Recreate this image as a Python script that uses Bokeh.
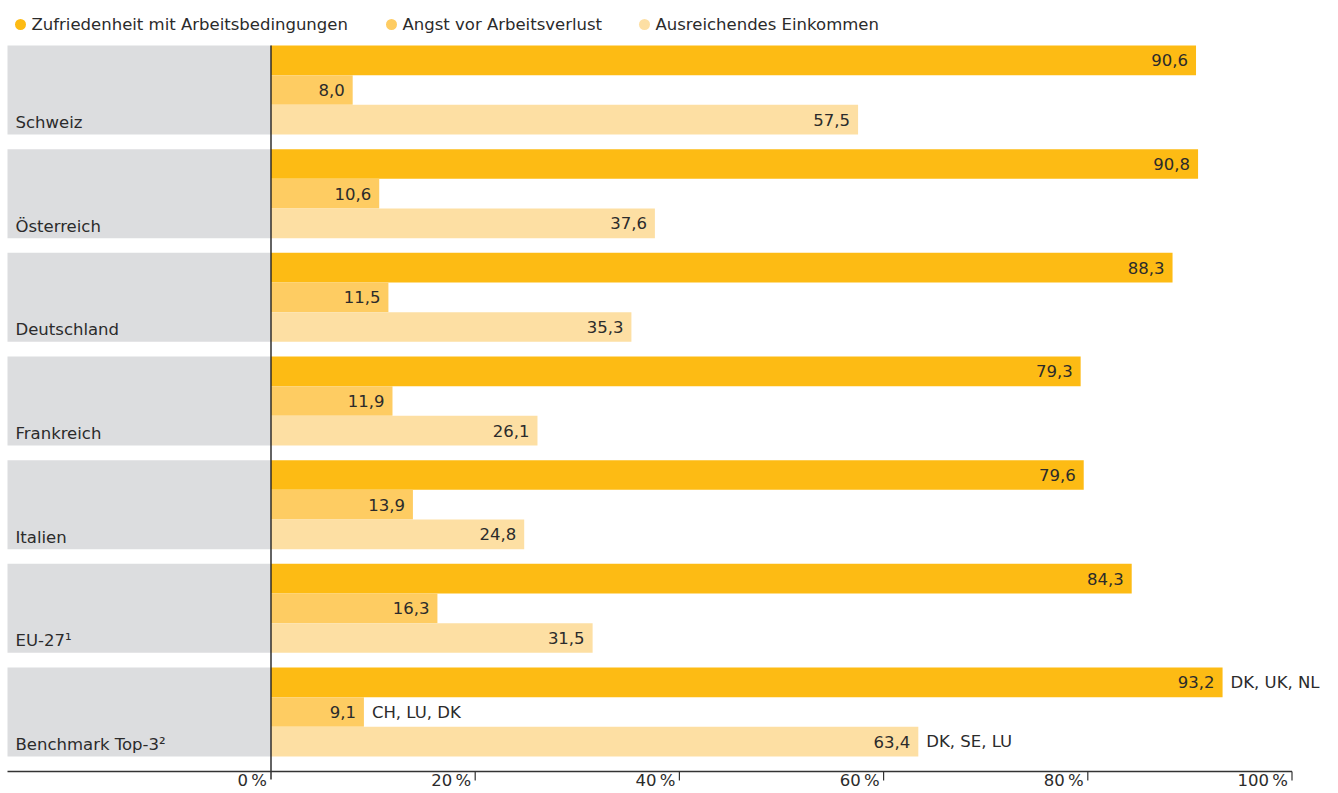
from bokeh.plotting import figure
from bokeh.models import Range1d, ColumnDataSource
from bokeh.core.properties import value
from bokeh.embed import file_html
from bokeh.resources import INLINE

# ---- data ----
countries = ["Schweiz", "Österreich", "Deutschland", "Frankreich", "Italien", "EU-27¹", "Benchmark Top-3²"]
series_names = ["Zufriedenheit mit Arbeitsbedingungen", "Angst vor Arbeitsverlust", "Ausreichendes Einkommen"]
zufriedenheit = [90.6, 90.8, 88.3, 79.3, 79.6, 84.3, 93.2]
angst = [8.0, 10.6, 11.5, 11.9, 13.9, 16.3, 9.1]
einkommen = [57.5, 37.6, 35.3, 26.1, 24.8, 31.5, 63.4]
benchmark_notes = ["DK, UK, NL", "CH, LU, DK", "DK, SE, LU"]
tick_values = [0, 20, 40, 60, 80, 100]
tick_labels = ["0\u2009%", "20\u2009%", "40\u2009%", "60\u2009%", "80\u2009%", "100\u2009%"]

# ---- styling / layout ----
colors = ["#FDBB14", "#FECC62", "#FDDFA3"]
panel_color = "#DCDDDF"
text_color = "#2B2B2B"
FONT = value("DejaVu Sans")
FS = "16.5px"

W, H = 1336, 792
ORIGIN = 0             # page offset of the figure
X0_PX = 270.5          # page x of 0 %
PX_PER_PCT = 10.21     # pixels per percent


def px2x(px):
    return (px - X0_PX) / PX_PER_PCT


p = figure(width=W, height=H, output_backend="svg", toolbar_location=None,
           x_range=Range1d(px2x(ORIGIN), px2x(ORIGIN + W)),
           y_range=Range1d(ORIGIN + H, ORIGIN),
           min_border=0, outline_line_color=None)
p.axis.visible = False
p.grid.visible = False
p.background_fill_color = "white"
p.border_fill_color = "white"

GROUP_TOP = 45.0
GROUP_STEP = 103.67
BAR_H = 29.67
n = len(countries)
tops = [GROUP_TOP + GROUP_STEP * i for i in range(n)]

# gray panels
p.quad(left=px2x(7), right=0, top=tops, bottom=[t + 3 * BAR_H for t in tops],
       fill_color=panel_color, line_color=None)

# country labels
p.text(x=[px2x(15)] * n, y=[t + 3 * BAR_H - 12 for t in tops], text=countries,
       text_font=FONT, text_font_size=FS, text_color=text_color,
       text_baseline="middle", text_align="left")

# bars
series = [zufriedenheit, angst, einkommen]
for k, vals in enumerate(series):
    yc = [t + BAR_H * (k + 0.5) for t in tops]
    src = ColumnDataSource(dict(y=yc, right=vals,
                                lab=[f"{v:.1f}".replace(".", ",") for v in vals]))
    p.hbar(y="y", left=0, right="right", height=BAR_H, source=src,
           fill_color=colors[k], line_color=None)
    p.text(x="right", y="y", text="lab", source=src, x_offset=-8, y_offset=0,
           text_font=FONT, text_font_size=FS, text_color=text_color,
           text_align="right", text_baseline="middle")
    # benchmark notes
    p.text(x=[vals[-1]], y=[yc[-1]], text=[benchmark_notes[k]], x_offset=8, y_offset=0,
           text_font=FONT, text_font_size=FS, text_color=text_color,
           text_align="left", text_baseline="middle")

# vertical axis line at 0
p.segment(x0=[0], y0=[GROUP_TOP], x1=[0], y1=[779], line_color="#222222", line_width=1.4)
# horizontal axis line
p.segment(x0=[px2x(7)], y0=[771], x1=[100], y1=[771], line_color="#333333", line_width=1.4)
# tick marks
p.segment(x0=tick_values[1:], y0=[771] * 5, x1=tick_values[1:], y1=[780] * 5,
          line_color="#333333", line_width=1.2)
p.text(x=tick_values, y=[780] * len(tick_values), text=tick_labels, x_offset=-4,
       text_font=FONT, text_font_size=FS, text_color=text_color,
       text_align="right", text_baseline="middle")

# legend (manual)
leg_px = [20, 391, 644]
p.scatter(x=[px2x(v) for v in leg_px], y=[24] * 3, size=11, marker="circle",
          fill_color=colors, line_color=None)
p.text(x=[px2x(v + 11) for v in leg_px], y=[24] * 3, text=series_names,
       text_font=FONT, text_font_size=FS, text_color=text_color,
       text_align="left", text_baseline="middle")

open("out.html", "w").write(file_html(p, INLINE))
